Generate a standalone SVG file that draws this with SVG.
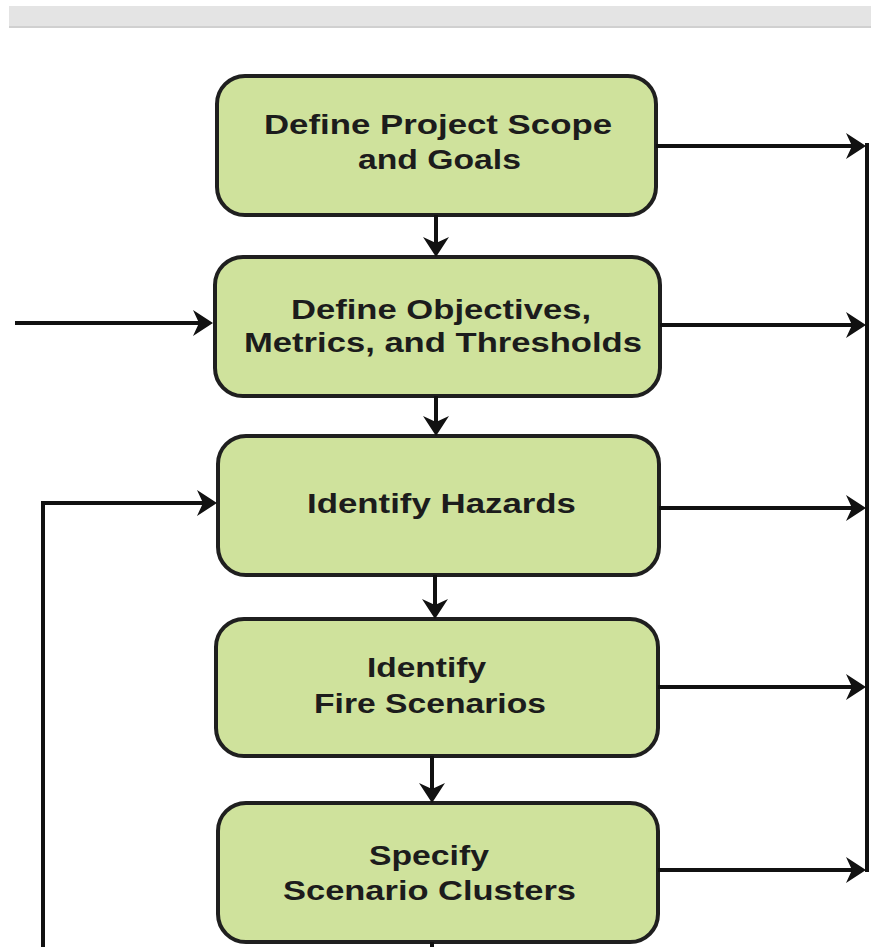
<svg xmlns="http://www.w3.org/2000/svg" width="871" height="947" viewBox="0 0 871 947">
<style>
.box{fill:#cfe29c;stroke:#1f1f1f;stroke-width:4}
.lbl{font-family:"Liberation Sans",Arial,sans-serif;font-weight:bold;font-size:28px;fill:#1c1c1c}
.conn{fill:none;stroke:#111;stroke-width:4}
</style>
<defs>
<marker id="ah" viewBox="0 0 20 26" refX="16" refY="13" markerWidth="20" markerHeight="26" markerUnits="userSpaceOnUse" orient="auto">
<path d="M0,0 L20,13 L0,26 L6,13 Z" fill="#111"/>
</marker>
</defs>
<rect x="9" y="6" width="862" height="21" fill="#e4e4e4"/>
<rect x="9" y="26" width="862" height="2" fill="#d0d0d0"/>

<g id="n1">
<rect class="box" x="217" y="76" width="439" height="139" rx="28"/>
<text class="lbl" x="264" y="134" textLength="348" lengthAdjust="spacingAndGlyphs">Define Project Scope</text>
<text class="lbl" x="358" y="169" textLength="163" lengthAdjust="spacingAndGlyphs">and Goals</text>
</g>
<g id="n2">
<rect class="box" x="215" y="257" width="445" height="139" rx="28"/>
<text class="lbl" x="291" y="319" textLength="300" lengthAdjust="spacingAndGlyphs">Define Objectives,</text>
<text class="lbl" x="244" y="352" textLength="398" lengthAdjust="spacingAndGlyphs">Metrics, and Thresholds</text>
</g>
<g id="n3">
<rect class="box" x="218" y="436" width="441" height="139" rx="28"/>
<text class="lbl" x="307" y="513" textLength="269" lengthAdjust="spacingAndGlyphs">Identify Hazards</text>
</g>
<g id="n4">
<rect class="box" x="216" y="619" width="442" height="137" rx="28"/>
<text class="lbl" x="367" y="677" textLength="119" lengthAdjust="spacingAndGlyphs">Identify</text>
<text class="lbl" x="314" y="713" textLength="232" lengthAdjust="spacingAndGlyphs">Fire Scenarios</text>
</g>
<g id="n5">
<rect class="box" x="218" y="803" width="440" height="139" rx="28"/>
<text class="lbl" x="369" y="865" textLength="120" lengthAdjust="spacingAndGlyphs">Specify</text>
<text class="lbl" x="283" y="900" textLength="293" lengthAdjust="spacingAndGlyphs">Scenario Clusters</text>
</g>

<g id="connectors">
<path class="conn" d="M436,215 V253" marker-end="url(#ah)"/>
<path class="conn" d="M436,396 V432" marker-end="url(#ah)"/>
<path class="conn" d="M435,575 V615" marker-end="url(#ah)"/>
<path class="conn" d="M432,756 V799" marker-end="url(#ah)"/>
<path class="conn" d="M432,942 V947"/>
<path class="conn" d="M15,323 H209" marker-end="url(#ah)"/>
<path class="conn" d="M43,947 V503 H213" marker-end="url(#ah)"/>
<path class="conn" d="M867,143 V872"/>
<path class="conn" d="M656,146 H862" marker-end="url(#ah)"/>
<path class="conn" d="M660,325 H862" marker-end="url(#ah)"/>
<path class="conn" d="M659,508 H862" marker-end="url(#ah)"/>
<path class="conn" d="M658,687 H862" marker-end="url(#ah)"/>
<path class="conn" d="M658,870 H862" marker-end="url(#ah)"/>
</g>
</svg>
